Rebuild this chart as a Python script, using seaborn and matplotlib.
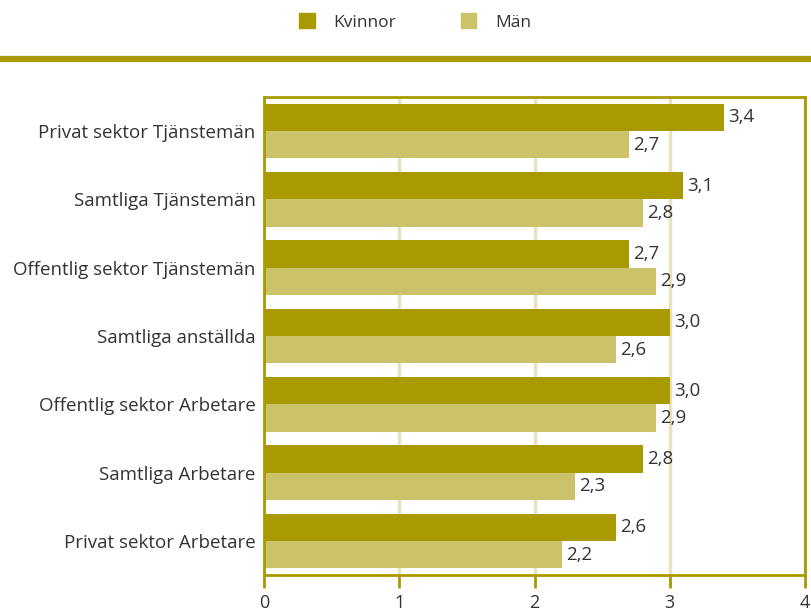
import pandas as pd
import seaborn as sns
import matplotlib.pyplot as plt
from matplotlib.lines import Line2D

kategorier = ["Privat sektor Tjänstemän", "Samtliga Tjänstemän", "Offentlig sektor Tjänstemän",
              "Samtliga anställda", "Offentlig sektor Arbetare", "Samtliga Arbetare",
              "Privat sektor Arbetare"]
kvinnor = [3.4, 3.1, 2.7, 3.0, 3.0, 2.8, 2.6]
man = [2.7, 2.8, 2.9, 2.6, 2.9, 2.3, 2.2]
grupper = ["Kvinnor", "Män"]

df = pd.DataFrame({
    "Kategori": kategorier * 2,
    "Värde": kvinnor + man,
    "Kön": [grupper[0]] * len(kategorier) + [grupper[1]] * len(kategorier),
})

oliv = "#A89A00"
ljus = "#CCC26A"
grid = "#E8E3BC"
text = "#333333"

sns.set_style("white")
plt.rcParams["font.family"] = ["Open Sans", "DejaVu Sans"]

fig = plt.figure(figsize=(8.11, 6.14), dpi=100)
ax = fig.add_axes([264 / 811, 1 - 575 / 614, (805 - 264) / 811, (575 - 97) / 614])

sns.barplot(data=df, x="Värde", y="Kategori", hue="Kön", order=kategorier,
            hue_order=grupper, palette=[oliv, ljus], width=0.8, gap=0,
            saturation=1, orient="h", ax=ax, legend=False, linewidth=0)

for cont in ax.containers:
    ax.bar_label(cont, labels=[f"{v:.1f}".replace(".", ",") for v in cont.datavalues],
                 padding=3, fontsize=13.5, color=text)

ax.set_xlim(0, 4)
ax.set_ylim(6.5, -0.5)
ax.set_xticks([0, 1, 2, 3, 4])
ax.xaxis.grid(True, color=grid, linewidth=2.5)
ax.set_axisbelow(True)
ax.set_xlabel("")
ax.set_ylabel("")
for s in ax.spines.values():
    s.set_color(oliv)
    s.set_linewidth(2)
ax.tick_params(axis="x", length=9, width=2, color=oliv, labelsize=13,
               labelcolor=text, pad=5, bottom=True)
ax.tick_params(axis="y", length=0, labelsize=13.5, labelcolor=text, pad=6)

# legend at top
handles = [plt.Rectangle((0, 0), 1, 1, color=c) for c in [oliv, ljus]]
fig.legend(handles, grupper, loc="center", bbox_to_anchor=(0.512, 1 - 22 / 614),
           ncol=2, frameon=False, fontsize=12.5, handlelength=0.9, handleheight=0.9,
           columnspacing=3.7, handletextpad=1.1, labelcolor=text)

fig.add_artist(Line2D([0, 1], [1 - 59 / 614] * 2, color=oliv, linewidth=4.5,
                      transform=fig.transFigure))

fig.savefig("out.png", dpi=100)
